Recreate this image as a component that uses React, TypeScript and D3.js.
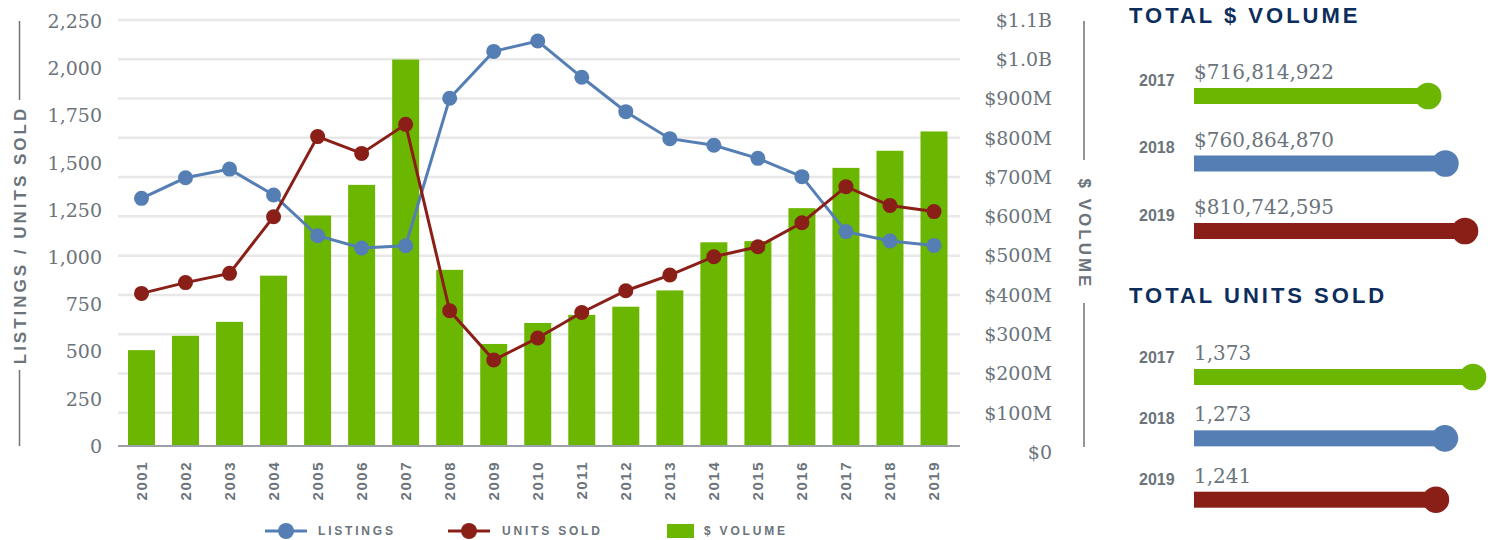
import React from "react";
import * as d3 from "d3";

const years = ["2001","2002","2003","2004","2005","2006","2007","2008","2009","2010","2011","2012","2013","2014","2015","2016","2017","2018","2019"];
const listings = [1311,1420,1466,1329,1113,1048,1060,1841,2089,2144,1952,1770,1627,1592,1523,1426,1135,1085,1062];
const unitsSold = [808,865,914,1214,1638,1549,1703,716,455,572,707,822,905,1002,1055,1182,1373,1273,1241];
const dollarVolume = [247e6,284e6,320e6,439e6,594e6,673e6,996e6,454e6,263e6,317e6,338e6,359e6,401e6,525e6,528e6,613e6,716814922,760864870,810742595];

const leftTicks = [0,250,500,750,1000,1250,1500,1750,2000,2250];
const rightTicks = [0,1e8,2e8,3e8,4e8,5e8,6e8,7e8,8e8,9e8,1e9,1.1e9];
const rightTickLabels = ["$0","$100M","$200M","$300M","$400M","$500M","$600M","$700M","$800M","$900M","$1.0B","$1.1B"];

const panelYears = ["2017","2018","2019"];
const panelVolume = [716814922, 760864870, 810742595];
const panelVolumeLabels = ["$716,814,922","$760,864,870","$810,742,595"];
const panelUnits = [1373, 1273, 1241];
const panelUnitsLabels = ["1,373","1,273","1,241"];

const BLUE = "#557fb4";
const RED = "#8a1f18";
const GREEN = "#6ab600";
const NAVY = "#0d2d5c";
const GRAY = "#6b747b";
const SERIF = "'DejaVu Serif', serif";
const SANS = "'Liberation Sans', Arial, sans-serif";
const panelColors = [GREEN, BLUE, RED];

export default function App() {
  const x = d3.scaleBand<string>().domain(years).range([119.5, 956]).paddingInner(0.387).paddingOuter(0.193);
  const yLeft = d3.scaleLinear().domain([0, 2250]).range([446, 21]);
  const yBar = d3.scaleLinear().domain([0, 1.1e9]).range([446, 19.2]);
  const yRight = d3.scaleLinear().domain([0, 1.1e9]).range([452, 20]);
  const cx = (i: number) => (x(years[i]) as number) + x.bandwidth() / 2;

  const line = d3.line<number>().x((_, i) => cx(i)).y((d) => yLeft(d));

  const volRow = d3.scaleLinear().domain([0, 2]).range([96, 231]);
  const unitRow = d3.scaleLinear().domain([0, 2]).range([377, 499.7]);
  const volLen = d3.scaleLinear().domain([120e6, 810742595]).range([0, 271]);
  const unitLen = d3.scaleLinear().domain([380, 1373]).range([0, 279]);
  const px0 = 1194;

  return (
    <svg width={1494} height={540} style={{ position: "absolute", left: 0, top: 0, background: "#fff" }}>
      {rightTicks.slice(1).map((t) => (
        <line key={"g" + t} x1={118} x2={960} y1={yRight(t)} y2={yRight(t)} stroke="#e8e8e8" strokeWidth={2.5} />
      ))}
      {dollarVolume.map((v, i) => (
        <rect key={"b" + i} x={x(years[i])} y={yBar(v)} width={x.bandwidth()} height={446 - yBar(v)} fill={GREEN} />
      ))}
      <line x1={118} x2={960} y1={446} y2={446} stroke="#9aa0a5" strokeWidth={2} />
      <path d={line(listings) || ""} fill="none" stroke={BLUE} strokeWidth={3} />
      {listings.map((v, i) => (
        <circle key={"lc" + i} cx={cx(i)} cy={yLeft(v)} r={7.5} fill={BLUE} />
      ))}
      <path d={line(unitsSold) || ""} fill="none" stroke={RED} strokeWidth={3} />
      {unitsSold.map((v, i) => (
        <circle key={"uc" + i} cx={cx(i)} cy={yLeft(v)} r={7.5} fill={RED} />
      ))}
      {leftTicks.map((t) => (
        <text key={"lt" + t} x={102} y={yLeft(t)} dy="0.36em" textAnchor="end" fontFamily={SERIF} fontSize={19} fill={GRAY}>
          {d3.format(",")(t)}
        </text>
      ))}
      {rightTicks.map((t, i) => (
        <text key={"rt" + t} x={1052} y={yRight(t)} dy="0.36em" textAnchor="end" fontFamily={SERIF} fontSize={19} fill={GRAY}>
          {rightTickLabels[i]}
        </text>
      ))}
      {years.map((yr, i) => (
        <text key={"xl" + yr} transform={`translate(${cx(i)},461) rotate(-90)`} dy="0.36em" textAnchor="end"
          fontFamily={SANS} fontWeight="bold" fontSize={15} letterSpacing={1.5} fill={GRAY}>
          {yr}
        </text>
      ))}
      <line x1={19.5} x2={19.5} y1={21} y2={100} stroke={GRAY} strokeWidth={1.5} />
      <line x1={19.5} x2={19.5} y1={370} y2={446} stroke={GRAY} strokeWidth={1.5} />
      <text transform="translate(20,235) rotate(-90)" dy="0.36em" textAnchor="middle" fontFamily={SANS} fontWeight="bold"
        fontSize={17} letterSpacing={3} fill={GRAY}>
        LISTINGS / UNITS SOLD
      </text>
      <line x1={1084} x2={1084} y1={21} y2={160} stroke={GRAY} strokeWidth={1.5} />
      <line x1={1084} x2={1084} y1={303} y2={447} stroke={GRAY} strokeWidth={1.5} />
      <text transform="translate(1085,234) rotate(90)" dy="0.36em" textAnchor="middle" fontFamily={SANS} fontWeight="bold"
        fontSize={17} letterSpacing={3} fill={GRAY}>
        $ VOLUME
      </text>
      <line x1={265} x2={307} y1={531} y2={531} stroke={BLUE} strokeWidth={3} />
      <circle cx={286} cy={531} r={8} fill={BLUE} />
      <text x={318} y={531} dy="0.36em" fontFamily={SANS} fontWeight="bold" fontSize={12} letterSpacing={2.8} fill={GRAY}>LISTINGS</text>
      <line x1={448} x2={490} y1={531} y2={531} stroke={RED} strokeWidth={3} />
      <circle cx={469} cy={531} r={8} fill={RED} />
      <text x={502} y={531} dy="0.36em" fontFamily={SANS} fontWeight="bold" fontSize={12} letterSpacing={2.8} fill={GRAY}>UNITS SOLD</text>
      <rect x={667} y={524} width={27} height={14} fill={GREEN} />
      <text x={704} y={531} dy="0.36em" fontFamily={SANS} fontWeight="bold" fontSize={12} letterSpacing={2.8} fill={GRAY}>$ VOLUME</text>

      <text x={1129} y={23} fontFamily={SANS} fontWeight="bold" fontSize={22} letterSpacing={3} fill={NAVY}>TOTAL $ VOLUME</text>
      {panelYears.map((yr, i) => {
        const cy = volRow(i);
        const end = px0 + volLen(panelVolume[i]);
        return (
          <g key={"pv" + yr}>
            <text x={1139} y={cy - 16} dy="0.36em" fontFamily={SANS} fontWeight="bold" fontSize={16} fill={GRAY}>{yr}</text>
            <text x={px0} y={cy - 17} fontFamily={SERIF} fontSize={20} fill={GRAY}>{panelVolumeLabels[i]}</text>
            <rect x={px0} y={cy - 8} width={end - px0} height={16} fill={panelColors[i]} />
            <circle cx={end} cy={cy} r={13.3} fill={panelColors[i]} />
          </g>
        );
      })}
      <text x={1129} y={303} fontFamily={SANS} fontWeight="bold" fontSize={22} letterSpacing={3} fill={NAVY}>TOTAL UNITS SOLD</text>
      {panelYears.map((yr, i) => {
        const cy = unitRow(i);
        const end = px0 + unitLen(panelUnits[i]);
        return (
          <g key={"pu" + yr}>
            <text x={1139} y={cy - 20} dy="0.36em" fontFamily={SANS} fontWeight="bold" fontSize={16} fill={GRAY}>{yr}</text>
            <text x={px0} y={cy - 17} fontFamily={SERIF} fontSize={20} fill={GRAY}>{panelUnitsLabels[i]}</text>
            <rect x={px0} y={cy - 8} width={end - px0} height={16} fill={panelColors[i]} />
            <circle cx={end} cy={cy} r={13.3} fill={panelColors[i]} />
          </g>
        );
      })}
    </svg>
  );
}
